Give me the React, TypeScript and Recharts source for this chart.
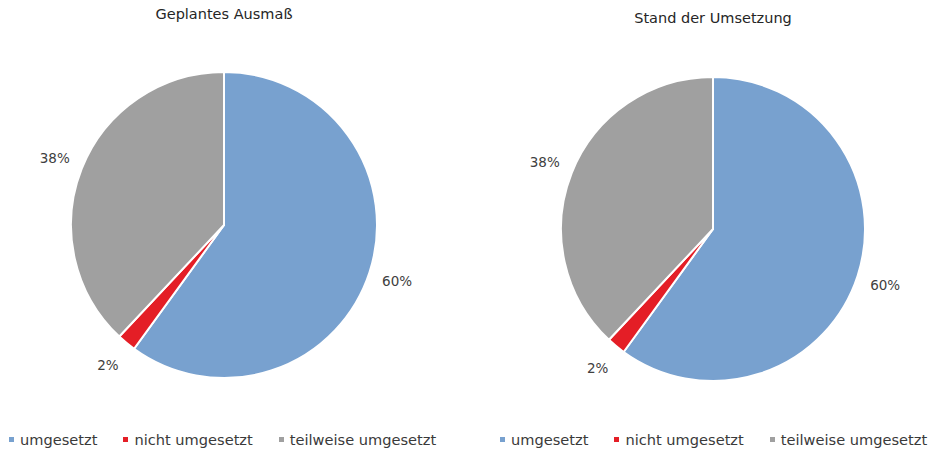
import { PieChart, Pie, Cell } from 'recharts';

const categories = ['umgesetzt', 'nicht umgesetzt', 'teilweise umgesetzt'];
const colors = ['#78A1CF', '#E41E26', '#A0A0A0'];
const plannedValues = [60, 2, 38];
const progressValues = [60, 2, 38];
const titles = ['Geplantes Ausmaß', 'Stand der Umsetzung'];

const FONT = '"DejaVu Sans", Verdana, sans-serif';
const RAD = Math.PI / 180;

const toRows = (values: number[]) =>
  categories.map((name, i) => ({ name, value: values[i] }));

// percentage text placed just outside each slice
const renderLabel = (props: any) => {
  const { cx, cy, midAngle, outerRadius, value } = props;
  const r = outerRadius + 29;
  const x = cx + r * Math.cos(-midAngle * RAD);
  const y = cy + r * Math.sin(-midAngle * RAD);
  return (
    <text x={x} y={y} fill="#404040" fontSize={13.5} fontFamily={FONT} textAnchor="middle" dominantBaseline="central">
      {value}%
    </text>
  );
};

function LegendRow({ left }: { left: number }) {
  return (
    <div style={{ position: 'absolute', left, top: 431, display: 'flex', alignItems: 'center', fontFamily: FONT, fontSize: 14.6, color: '#3a3a3a', whiteSpace: 'nowrap' }}>
      {categories.map((c, i) => (
        <div key={c} style={{ display: 'flex', alignItems: 'center', marginRight: 26 }}>
          <span style={{ width: 5, height: 5, background: colors[i], marginRight: 6, display: 'inline-block' }} />
          <span>{c}</span>
        </div>
      ))}
    </div>
  );
}

function SinglePie({ values, title, cx, cy, radius, titleX, titleY }: any) {
  return (
    <div style={{ position: 'relative', width: 466, height: 450 }}>
      <div style={{ position: 'absolute', left: titleX - 150, width: 300, top: titleY, textAlign: 'center', fontFamily: FONT, fontSize: 14.5, color: '#262626' }}>
        {title}
      </div>
      <PieChart width={466} height={450} margin={{ top: 0, right: 0, bottom: 0, left: 0 }}>
        <Pie
          data={toRows(values)}
          dataKey="value"
          nameKey="name"
          cx={cx}
          cy={cy}
          outerRadius={radius}
          startAngle={90}
          endAngle={-270}
          stroke="#ffffff"
          strokeWidth={2}
          label={renderLabel}
          labelLine={false}
          isAnimationActive={false}
        >
          {values.map((_: number, i: number) => (
            <Cell key={i} fill={colors[i]} />
          ))}
        </Pie>
      </PieChart>
    </div>
  );
}

export default function App() {
  return (
    <div style={{ position: 'absolute', left: 0, top: 0, width: 932, height: 450, background: '#fff', overflow: 'hidden' }}>
      <div style={{ display: 'flex' }}>
        <SinglePie values={plannedValues} title={titles[0]} cx={224} cy={225} radius={153} titleX={224} titleY={6} />
        <SinglePie values={progressValues} title={titles[1]} cx={247} cy={229} radius={152} titleX={247} titleY={10} />
      </div>
      <LegendRow left={9} />
      <LegendRow left={500} />
    </div>
  );
}
